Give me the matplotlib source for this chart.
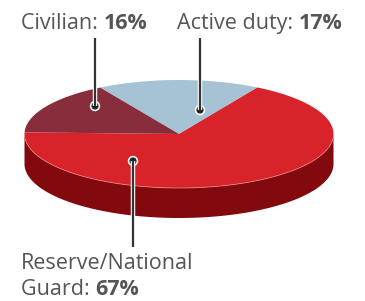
import numpy as np
import matplotlib
matplotlib.use('Agg')
import matplotlib.pyplot as plt
from matplotlib.patches import Polygon, Circle

# data
categories = ['Active duty', 'Civilian', 'Reserve/National\nGuard']
shares = [17, 16, 67]
top_colors = ['#a6c3d5', '#882d3b', '#d8232a']
side_colors = ['#7a8fa0', '#5e1520', '#820a0e']

plt.rcParams['font.family'] = ['Open Sans', 'DejaVu Sans']

W, H = 365, 301
fig = plt.figure(figsize=(W / 100, H / 100), dpi=100)
ax = fig.add_axes([0, 0, 1, 1])
ax.set_xlim(0, W)
ax.set_ylim(H, 0)
ax.axis('off')

cx, cy = 179, 134
rx, ry = 154.5, 54
depth = 30
start = 59.5


def pt(t, dy=0):
    r = np.radians(t)
    return cx + rx * np.cos(r), cy - ry * np.sin(r) + dy


def arc(t0, t1, dy=0, n=120):
    ts = np.linspace(t0, t1, n)
    return np.array([pt(t, dy) for t in ts])


bounds = start + 360 * np.concatenate([[0], np.cumsum(shares)]) / sum(shares)

# side walls (visible front half, 180..360 deg)
for i in range(len(shares)):
    a0, a1 = bounds[i], bounds[i + 1]
    for off in (0, 360, -360):
        lo = max(a0 + off, 180)
        hi = min(a1 + off, 360)
        if hi > lo:
            top = arc(lo, hi)
            bot = arc(hi, lo, depth)
            ax.add_patch(Polygon(np.vstack([top, bot]), closed=True,
                                 facecolor=side_colors[i], edgecolor='none'))

# top faces
for i in range(len(shares)):
    poly = np.vstack([[cx, cy], arc(bounds[i], bounds[i + 1])])
    ax.add_patch(Polygon(poly, closed=True, facecolor=top_colors[i],
                         edgecolor='none'))

# light rim on the front edge
rim = arc(185, 355)
ax.plot(rim[:, 0], rim[:, 1], color='#f08a8c', lw=0.6, alpha=0.8)

# leader lines and dots
leaders = [
    ((200, 110), (200, 38)),
    ((95, 106), (95, 38)),
    ((133, 161), (133, 247)),
]
for (dx, dy), (ex, ey) in leaders:
    ax.plot([dx, ex], [dy, ey], color='white', lw=3.2, solid_capstyle='butt')
    ax.plot([dx, ex], [dy, ey], color='#333333', lw=1.6, solid_capstyle='butt')
    ax.add_patch(Circle((dx, dy), 5.2, facecolor='white', edgecolor='none'))
    ax.add_patch(Circle((dx, dy), 3.6, facecolor='#222222', edgecolor='none'))

# labels
gray = '#555555'
fs = 15.5


def label(x, y, name, pct):
    t = ax.text(x, y, name + ': ', fontsize=fs, color=gray, va='baseline',
                ha='left')
    fig.canvas.draw()
    bb = t.get_window_extent()
    x2 = ax.transData.inverted().transform((bb.x1, bb.y0))[0]
    ax.text(x2, y, pct, fontsize=fs, color=gray, fontweight='bold',
            va='baseline', ha='left')


label(177, 29, categories[0], f'{shares[0]}%')
label(21, 29, categories[1], f'{shares[1]}%')
ax.text(21, 269, 'Reserve/National', fontsize=fs, color=gray, va='baseline')
label(21, 295, 'Guard', f'{shares[2]}%')

fig.savefig('out.png', dpi=100, facecolor='white')
